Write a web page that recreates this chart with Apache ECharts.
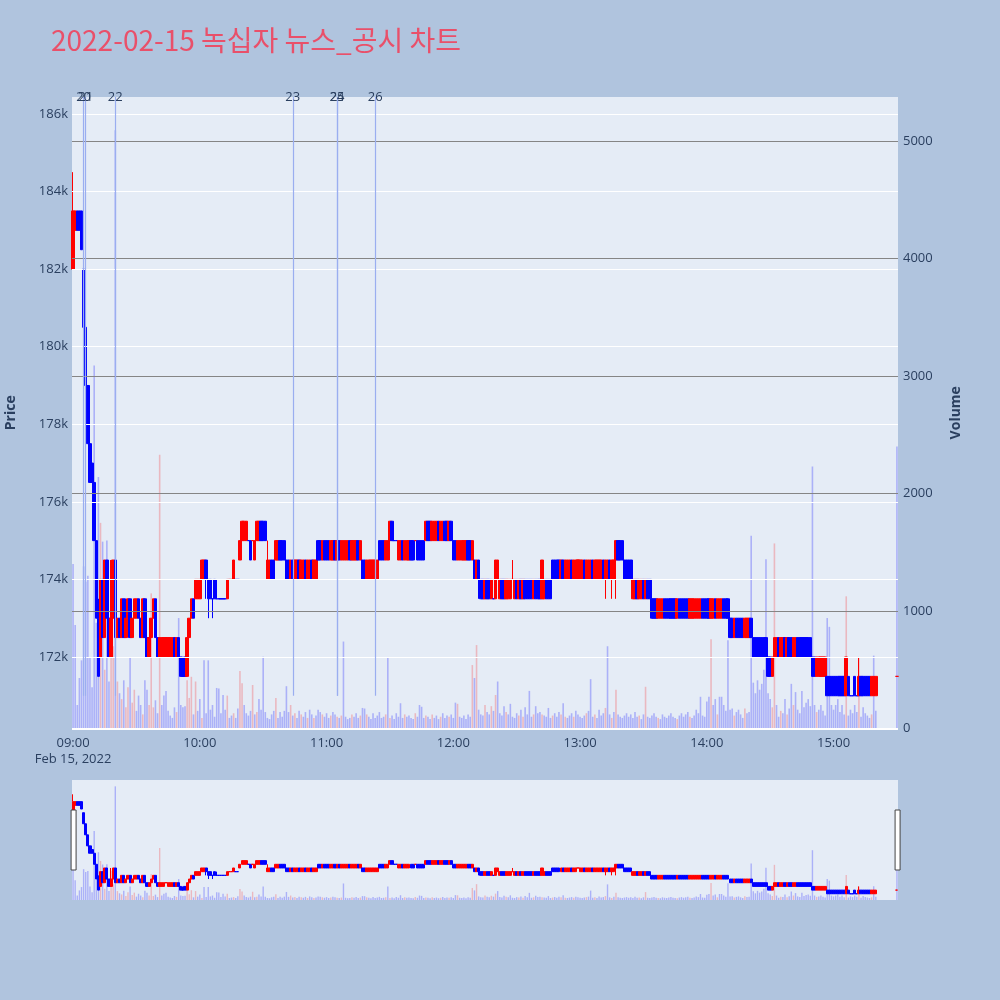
<!DOCTYPE html>
<html>
<head>
<meta charset="utf-8">
<title>2022-02-15 녹십자 뉴스_공시 차트</title>
<script src="https://cdn.jsdelivr.net/npm/echarts@6/dist/echarts.min.js"></script>
<style>
  html, body { margin: 0; padding: 0; background: #b0c4de; }
  #chart { width: 1000px; height: 1000px; }
</style>
</head>
<body>
<div id="chart"></div>
<script>
// 1-minute bars, index = minutes since 09:00 (null = no trade, 15:21-15:29)
const opens = [
  182000,183000,183500,183500,183500,182000,180500,179000,177500,177000,
  176500,175000,173000,172000,174000,172500,174500,173000,172000,173000,
  174500,172500,173000,172500,173500,172500,173000,173500,172500,173000,
  173000,173500,173000,172500,173500,172500,172000,172500,173000,173500,
  172500,172000,172000,172000,172500,172000,172000,172000,172500,172000,
  172500,172000,171500,172000,171500,172500,173000,173500,173500,173500,
  173500,174000,174000,174500,174000,174000,173500,174000,173500,173500,
  173500,173500,173500,173500,174000,174000,174000,174000,174000,174500,
  175000,175000,175000,175000,175000,175000,174500,175000,175000,175500,
  175500,175500,174000,174000,174500,174500,174500,174500,175000,175000,
  175000,174500,174500,174000,174500,174000,174000,174500,174000,174000,
  174500,174000,174000,174500,174000,174000,175000,175000,174500,175000,
  175000,175000,174500,174500,175000,174500,175000,174500,174500,174500,
  174500,175000,174500,174500,174500,175000,174500,174500,174500,174000,
  174000,174000,174000,174000,174000,175000,175000,175000,174500,174500,
  175000,175500,175000,175000,174500,174500,175000,174500,174500,174500,
  175000,175000,175000,175000,175000,175000,175000,175000,175500,175500,
  175000,175000,175000,175500,175000,175000,175500,175500,175000,175500,
  175000,175000,174500,174500,174500,174500,174500,175000,175000,174500,
  174500,174000,174500,174000,174000,173500,174000,174000,173500,173500,
  173500,174000,173500,174000,174000,173500,173500,173500,174000,173500,
  174000,173500,174000,173500,174000,174000,174000,174000,173500,174000,
  174000,174000,173500,173500,174000,174000,174000,174500,174500,174500,
  174500,174000,174500,174000,174000,174000,174500,174000,174000,174500,
  174000,174000,174500,174000,174000,174000,174500,174000,174000,174000,
  174000,174500,174000,174000,174500,174000,174000,174500,175000,175000,
  175000,174500,174500,174500,174500,173500,173500,174000,173500,173500,
  174000,173500,174000,174000,173500,173500,173500,173000,173000,173000,
  173500,173500,173500,173500,173500,173500,173000,173500,173500,173500,
  173500,173500,173000,173000,173000,173000,173000,173000,173500,173500,
  173500,173500,173000,173000,173500,173000,173000,173000,173500,173500,
  173500,173000,173000,172500,173000,173000,173000,173000,172500,172500,
  172500,173000,172500,172500,172500,172500,172500,172500,172500,172000,
  172000,171500,172000,172000,172500,172000,172000,172500,172000,172500,
  172500,172000,172000,172500,172500,172500,172500,172500,172500,172500,
  172000,172000,171500,171500,171500,171500,171500,171500,171500,171500,
  171500,171500,171500,171500,171500,171500,171000,171500,171000,171000,
  171500,171000,171000,171500,171500,171500,171500,171500,171000,171000,
  171000,null,null,null,null,null,null,null,null,null,
  171500
];
const closes = [
  183500,183500,183000,183000,182500,180500,179000,177500,176500,176500,
  175000,173000,171500,174000,172500,174500,173000,172000,173000,174500,
  172500,173000,172500,173500,172500,173000,173500,172500,173000,173500,
  173500,173000,172500,173500,172500,172000,172500,173000,173500,172500,
  172000,172500,172500,172500,172500,172500,172500,172500,172000,172500,
  172000,171500,171500,171500,172500,173000,173500,173000,174000,174000,
  174000,174500,174500,174000,173500,173500,173500,173500,173500,173500,
  173500,173500,173500,174000,174000,174000,174500,174000,174000,175000,
  175500,175500,175500,175000,174500,175000,175000,175500,175500,175000,
  175000,175000,174500,174500,174000,174000,175000,175000,174500,174500,
  174500,174000,174000,174500,174000,174500,174500,174000,174500,174500,
  174000,174500,174500,174000,174500,174500,174500,174500,175000,174500,
  174500,174500,175000,175000,174500,175000,174500,175000,175000,175000,
  175000,174500,175000,175000,175000,174500,175000,174000,174000,174500,
  174500,174500,174500,174500,174500,174500,174500,174500,175000,175000,
  175500,175000,175000,175000,175000,175000,174500,175000,175000,175000,
  174500,174500,175000,174500,174500,174500,174500,175500,175000,175000,
  175500,175500,175500,175000,175500,175500,175000,175000,175500,175000,
  174500,174500,175000,175000,175000,175000,175000,174500,174500,175000,
  174000,174500,174000,173500,173500,174000,173500,173500,174000,173500,
  174500,174500,174000,173500,173500,174000,174000,174000,174000,174000,
  173500,174000,173500,174000,173500,173500,173500,173500,174000,173500,
  173500,173500,174500,174000,173500,173500,173500,174000,174000,174000,
  174000,174500,174000,174500,174500,174500,174000,174500,174500,174500,
  174500,174500,174000,174500,174500,174500,174000,174500,174500,174500,
  174500,174000,174500,174500,174000,174500,174500,175000,174500,174500,
  174500,174000,174000,174000,174000,174000,174000,173500,174000,174000,
  173500,174000,173500,173500,173000,173000,173000,173500,173500,173500,
  173000,173000,173000,173000,173000,173000,173500,173000,173000,173000,
  173000,173000,173500,173500,173500,173500,173500,173500,173000,173000,
  173000,173000,173500,173500,173000,173500,173500,173500,173000,173000,
  173000,172500,172500,173000,172500,172500,172500,172500,173000,173000,
  173000,172500,172000,172000,172000,172000,172000,172000,172000,171500,
  171500,172000,172500,172500,172000,172500,172500,172000,172500,172000,
  172000,172500,172500,172000,172000,172000,172000,172000,172000,172000,
  171500,171500,172000,172000,172000,172000,172000,171000,171000,171000,
  171000,171000,171000,171000,171000,171000,172000,171000,171000,171000,
  171000,171000,171500,171000,171000,171000,171000,171000,171500,171500,
  171500,null,null,null,null,null,null,null,null,null,
  171500
];
const lows = [
  182000,183000,183000,183000,182500,180500,179000,177500,176500,176500,
  175000,173000,171500,172000,172500,172500,173000,172000,172000,172500,
  172500,172500,172500,172500,172500,172500,173000,172500,172500,173000,
  173000,173000,172500,172500,172500,172000,172000,172500,173000,172500,
  172000,172000,172000,172000,172500,172000,172000,172000,172000,172000,
  172000,171500,171500,171500,171500,172500,173000,173000,173500,173500,
  173500,174000,174000,173500,173000,173500,173000,173500,173500,173500,
  173500,173500,173500,173500,174000,174000,174000,174000,174000,174500,
  175000,175000,175000,175000,174500,175000,174500,175000,175000,175000,
  175000,175000,174000,174000,174000,174000,174500,174500,174500,174500,
  174500,174000,174000,174000,174000,174000,174000,174000,174000,174000,
  174000,174000,174000,174000,174000,174000,174500,174500,174500,174500,
  174500,174500,174500,174500,174500,174500,174500,174500,174500,174500,
  174500,174500,174500,174500,174500,174500,174500,174000,174000,174000,
  174000,174000,174000,174000,174000,174500,174500,174500,174500,174500,
  175000,175000,175000,175000,174500,174500,174500,174500,174500,174500,
  174500,174500,175000,174500,174500,174500,174500,175000,175000,175000,
  175000,175000,175000,175000,175000,175000,175000,175000,175000,175000,
  174500,174500,174500,174500,174500,174500,174500,174500,174500,174500,
  174000,174000,173500,173500,173500,173500,173500,173500,173500,173500,
  173500,174000,173500,173500,173500,173500,173500,173500,174000,173500,
  173500,173500,173500,173500,173500,173500,173500,173500,173500,173500,
  173500,173500,173500,173500,173500,173500,173500,174000,174000,174000,
  174000,174000,174000,174000,174000,174000,174000,174000,174000,174500,
  174000,174000,174000,174000,174000,174000,174000,174000,174000,174000,
  174000,174000,173500,174000,174000,173500,174000,173500,174500,174500,
  174500,174000,174000,174000,174000,173500,173500,173500,173500,173500,
  173500,173500,173500,173500,173000,173000,173000,173000,173000,173000,
  173000,173000,173000,173000,173000,173000,173000,173000,173000,173000,
  173000,173000,173000,173000,173000,173000,173000,173000,173000,173000,
  173000,173000,173000,173000,173000,173000,173000,173000,173000,173000,
  173000,172500,172500,172500,172500,172500,172500,172500,172500,172500,
  172500,172500,172000,172000,172000,172000,172000,172000,172000,171500,
  171500,171500,172000,172000,172000,172000,172000,172000,172000,172000,
  172000,172000,172000,172000,172000,172000,172000,172000,172000,172000,
  171500,171500,171500,171500,171500,171500,171500,171000,171000,171000,
  171000,171000,171000,171000,171000,171000,171000,171000,171000,171000,
  171000,171000,171000,171000,171000,171000,171000,171000,171000,171000,
  171000,null,null,null,null,null,null,null,null,null,
  171500
];
const highs = [
  184500,183500,183500,183500,183500,182000,180500,179000,177500,177000,
  176500,175000,173500,174000,174000,174500,174500,173000,174500,174500,
  174500,173000,173000,173500,173500,173000,173500,173500,173000,173500,
  173500,173500,173000,173500,173500,172500,172500,173000,173500,173500,
  172500,172500,172500,172500,172500,172500,172500,172500,172500,172500,
  172500,172000,172000,172000,172500,173000,173500,173500,174000,174000,
  174000,174500,174500,174500,174000,174000,173500,174000,174000,173500,
  173500,173500,173500,174000,174000,174000,174500,174000,174000,175000,
  175500,175500,175500,175000,175000,175000,175000,175500,175500,175500,
  175500,175500,175000,174500,174500,174500,175000,175000,175000,175000,
  175000,174500,174500,174500,174500,174500,174500,174500,174500,174500,
  174500,174500,174500,174500,174500,174500,175000,175000,175000,175000,
  175000,175000,175000,175000,175000,175000,175000,175000,175000,175000,
  175000,175000,175000,175000,175000,175000,175000,174500,174500,174500,
  174500,174500,174500,174500,174500,175000,175000,175000,175000,175000,
  175500,175500,175000,175000,175000,175000,175000,175000,175000,175000,
  175000,175000,175000,175000,175000,175000,175000,175500,175500,175500,
  175500,175500,175500,175500,175500,175500,175500,175500,175500,175500,
  175000,175000,175000,175000,175000,175000,175000,175000,175000,175000,
  174500,174500,174500,174000,174000,174000,174000,174000,174000,173500,
  174500,174500,174000,174000,174000,174000,174000,174000,174500,174000,
  174000,174000,174000,174000,174000,174000,174000,174000,174000,174000,
  174000,174000,174500,174000,174000,174000,174000,174500,174500,174500,
  174500,174500,174500,174500,174500,174500,174500,174500,174500,174500,
  174500,174500,174500,174500,174500,174500,174500,174500,174500,174500,
  174500,174500,174500,174500,174500,174500,174500,175000,175000,175000,
  175000,174500,174500,174500,174500,174000,174000,174000,174000,174000,
  174000,174000,174000,174000,173500,173500,173500,173500,173500,173500,
  173500,173500,173500,173500,173500,173500,173500,173500,173500,173500,
  173500,173500,173500,173500,173500,173500,173500,173500,173500,173500,
  173500,173500,173500,173500,173500,173500,173500,173500,173500,173500,
  173500,173000,173000,173000,173000,173000,173000,173000,173000,173000,
  173000,173000,172500,172500,172500,172500,172500,172500,172500,172000,
  172000,172000,172500,172500,172500,172500,172500,172500,172500,172500,
  172500,172500,172500,172500,172500,172500,172500,172500,172500,172500,
  172000,172000,172000,172000,172000,172000,172000,171500,171500,171500,
  171500,171500,171500,171500,171500,171500,172000,171500,171000,171000,
  171500,171000,172000,171500,171500,171500,171500,171500,171500,171500,
  171500,null,null,null,null,null,null,null,null,null,
  171500
];
const volumes = [
  1400,880,200,430,580,1380,1250,1300,600,350,
  3090,900,2140,1750,1590,500,1600,400,1310,700,
  5090,400,300,250,410,180,350,600,220,330,
  150,280,200,120,410,330,200,1150,180,240,
  130,2330,200,280,320,150,110,90,180,140,
  940,200,180,190,410,260,440,120,400,150,
  250,90,580,130,580,160,200,100,345,340,
  130,285,160,280,90,110,130,90,170,490,
  385,200,130,110,150,370,120,140,250,160,
  610,140,90,80,120,150,260,90,140,100,
  150,360,140,200,110,130,90,150,120,100,
  140,90,160,120,90,110,160,140,120,100,
  130,90,110,140,120,100,90,110,740,100,
  80,90,120,100,130,90,110,175,170,120,
  100,80,130,90,110,140,90,100,120,600,
  90,110,80,130,100,215,90,120,100,110,
  90,80,130,100,200,185,90,110,100,80,
  120,90,110,80,100,130,90,110,100,120,
  90,220,210,100,90,110,80,120,100,540,
  430,710,160,120,110,200,140,120,190,150,
  285,400,130,110,190,140,120,210,100,90,
  130,110,160,100,180,120,320,100,120,190,
  130,140,120,110,100,175,90,110,130,100,
  140,120,215,100,90,110,130,100,150,120,
  100,90,110,130,150,420,100,120,90,160,
  110,130,175,700,120,90,140,330,120,100,
  90,110,130,100,120,90,140,100,110,80,
  120,355,100,90,110,130,100,90,80,120,
  100,90,110,130,100,90,80,110,130,100,
  120,140,100,90,110,160,130,270,110,100,
  230,270,760,200,250,120,270,270,200,150,
  750,160,170,110,140,160,120,90,170,130,
  140,1640,390,300,410,330,380,500,1440,300,
  250,180,1575,200,100,150,130,250,120,170,
  380,200,310,160,130,320,180,220,250,190,
  2230,200,140,160,200,150,110,940,865,200,
  160,200,250,140,200,120,1125,110,160,130,
  200,140,600,100,180,130,110,90,120,620,
  150,null,null,null,null,null,null,null,null,null,
  2400
];

const priceTicks = [172000, 174000, 176000, 178000, 180000, 182000, 184000, 186000];
const volumeTicks = [1000, 2000, 3000, 4000, 5000];
const newsTimes = ['09:05', '09:06', '09:20', '10:44', '11:05', '11:05', '11:23'];
const newsLabels = ['20', '21', '22', '23', '24', '25', '26'];
const newsLineLow = 171000;
const sessionDate = 'Feb 15, 2022';

const PRICE_MIN = 170156, PRICE_MAX = 186438, VOL_MAX = 5374;
const UP = '#ff0000', DOWN = '#0000ff';
const VOL_UP = 'rgba(255,0,0,0.22)', VOL_DOWN = 'rgba(0,0,255,0.25)';
const INK = '#2a3f5f';
const FONT = "'Open Sans', 'Noto Sans', sans-serif";

// minute categories 09:00 .. 15:30
const pad = n => (n < 10 ? '0' : '') + n;
const minutes = [];
for (let h = 9; h <= 15; h++) {
  for (let m = 0; m < 60; m++) {
    if (h === 15 && m > 30) break;
    minutes.push(pad(h) + ':' + pad(m));
  }
}

// candle colours follow close vs open, ties fall back to previous close
const candleData = [];
const volumeData = [];
let prevClose = null, prevUp = true;
for (let i = 0; i < minutes.length; i++) {
  if (opens[i] == null) continue;
  const o = opens[i], c = closes[i];
  let up;
  if (c > o) up = true;
  else if (c < o) up = false;
  else if (prevClose == null) up = true;
  else up = c > prevClose ? true : (c < prevClose ? false : prevUp);
  const col = up ? UP : DOWN;
  candleData.push({
    value: [minutes[i], o, c, lows[i], highs[i]],
    itemStyle: { color: col, color0: col, borderColor: col, borderColor0: col, borderColorDoji: col }
  });
  const volUp = prevClose != null && c > prevClose;
  volumeData.push({ value: [minutes[i], volumes[i]], itemStyle: { color: volUp ? VOL_UP : VOL_DOWN } });
  prevClose = c;
  prevUp = up;
}

const noLine = { symbol: ['none', 'none'], silent: true, animation: false, label: { show: false } };

const chart = echarts.init(document.getElementById('chart'));
chart.setOption({
  animation: false,
  backgroundColor: '#b0c4de',
  textStyle: { fontFamily: FONT },
  title: {
    text: '2022-02-15 녹십자 뉴스_공시 차트',
    left: 46, top: 21,
    textStyle: { color: '#e9506a', fontSize: 28, fontWeight: 'normal', fontFamily: "'Noto Sans CJK KR', 'Open Sans', sans-serif" }
  },
  grid: [
    { left: 72, width: 826, top: 97, height: 631.5, show: true, backgroundColor: '#e5ecf6', borderWidth: 0, outerBoundsMode: 'none', containLabel: false },
    { left: 72, width: 826, top: 780, height: 120, show: true, backgroundColor: '#e5ecf6', borderWidth: 0, outerBoundsMode: 'none', containLabel: false }
  ],
  xAxis: [
    {
      type: 'category', gridIndex: 0, data: minutes,
      axisLine: { show: false }, axisTick: { show: false }, splitLine: { show: false },
      axisLabel: {
        color: INK, fontSize: 13, margin: 7, lineHeight: 16,
        interval: i => i % 60 === 0,
        formatter: (v, i) => (i === 0 ? v + '\n' + sessionDate : v)
      }
    },
    {
      type: 'category', gridIndex: 1, data: minutes,
      axisLine: { show: false }, axisTick: { show: false }, axisLabel: { show: false }, splitLine: { show: false }
    }
  ],
  yAxis: [
    {
      type: 'value', gridIndex: 0, min: PRICE_MIN, max: PRICE_MAX, position: 'left',
      name: 'Price', nameLocation: 'middle', nameGap: 54, nameRotate: 90,
      nameTextStyle: { color: INK, fontSize: 14, fontWeight: 'bold' },
      axisLine: { show: false }, axisTick: { show: false }, splitLine: { show: false },
      axisLabel: { color: INK, fontSize: 13, margin: 4, customValues: priceTicks, formatter: v => (v / 1000) + 'k' }
    },
    {
      type: 'value', gridIndex: 0, min: 0, max: VOL_MAX, interval: 1000, position: 'right',
      name: 'Volume', nameLocation: 'middle', nameGap: 51, nameRotate: 90,
      nameTextStyle: { color: INK, fontSize: 14, fontWeight: 'bold' },
      axisLine: { show: false }, axisTick: { show: false }, splitLine: { show: false },
      axisLabel: { color: INK, fontSize: 13, margin: 5, showMaxLabel: false, formatter: v => String(v) }
    },
    { type: 'value', gridIndex: 1, min: PRICE_MIN, max: PRICE_MAX, show: false, splitLine: { show: false } },
    { type: 'value', gridIndex: 1, min: 0, max: VOL_MAX, show: false, splitLine: { show: false } }
  ],
  dataZoom: [{
    type: 'slider', xAxisIndex: 0, start: 0, end: 100,
    left: 72, width: 826, top: 780, height: 120,
    backgroundColor: 'rgba(0,0,0,0)', borderColor: 'rgba(0,0,0,0)',
    fillerColor: 'rgba(0,0,0,0)',
    showDataShadow: false, showDetail: false, brushSelect: false,
    dataBackground: { lineStyle: { opacity: 0 }, areaStyle: { opacity: 0 } },
    selectedDataBackground: { lineStyle: { opacity: 0 }, areaStyle: { opacity: 0 } },
    handleIcon: 'path://M0,0H5V60H0Z', handleSize: '50%',
    handleStyle: { color: '#ffffff', borderColor: '#444444', borderWidth: 1 },
    moveHandleSize: 0, moveHandleStyle: { opacity: 0 },
    emphasis: { handleStyle: { color: '#ffffff', borderColor: '#444444' }, handleLabel: { show: false }, moveHandleStyle: { opacity: 0 } }
  }],
  series: [
    {
      // price grid lines
      type: 'line', xAxisIndex: 0, yAxisIndex: 0, data: [], z: 1,
      markLine: Object.assign({}, noLine, {
        lineStyle: { color: '#ffffff', width: 1, type: 'solid' },
        data: priceTicks.map(v => ({ yAxis: v }))
      })
    },
    {
      name: 'Volume', type: 'bar', xAxisIndex: 0, yAxisIndex: 1, data: volumeData,
      barWidth: 1.6, z: 2,
      markLine: Object.assign({}, noLine, {
        lineStyle: { color: '#858585', width: 1, type: 'solid' },
        data: volumeTicks.map(v => ({ yAxis: v })).concat([{ yAxis: 0, lineStyle: { color: '#ffffff', width: 2 } }])
      })
    },
    {
      name: 'Price', type: 'candlestick', xAxisIndex: 0, yAxisIndex: 0, data: candleData,
      encode: { x: 0, y: [1, 2, 3, 4] }, barWidth: 3, z: 3
    },
    {
      // news / disclosure markers
      type: 'line', xAxisIndex: 0, yAxisIndex: 0, data: [], z: 4,
      markLine: {
        symbol: ['none', 'none'], silent: true, animation: false,
        lineStyle: { color: '#9aaef0', width: 1.2, type: 'solid', opacity: 1 },
        emphasis: { disabled: true },
        label: { show: true, position: 'end', distance: -7, formatter: '{b}', color: INK, fontSize: 13 },
        data: newsTimes.map((t, k) => [
          { coord: [t, newsLineLow], name: newsLabels[k], lineStyle: { color: '#9aaef0' } },
          { coord: [t, PRICE_MAX] }
        ])
      }
    },
    {
      type: 'bar', xAxisIndex: 1, yAxisIndex: 3, data: volumeData, barWidth: 1.4, z: 2
    },
    {
      type: 'candlestick', xAxisIndex: 1, yAxisIndex: 2, data: candleData,
      encode: { x: 0, y: [1, 2, 3, 4] }, barWidth: 2.6, z: 3
    }
  ]
});
</script>
</body>
</html>
